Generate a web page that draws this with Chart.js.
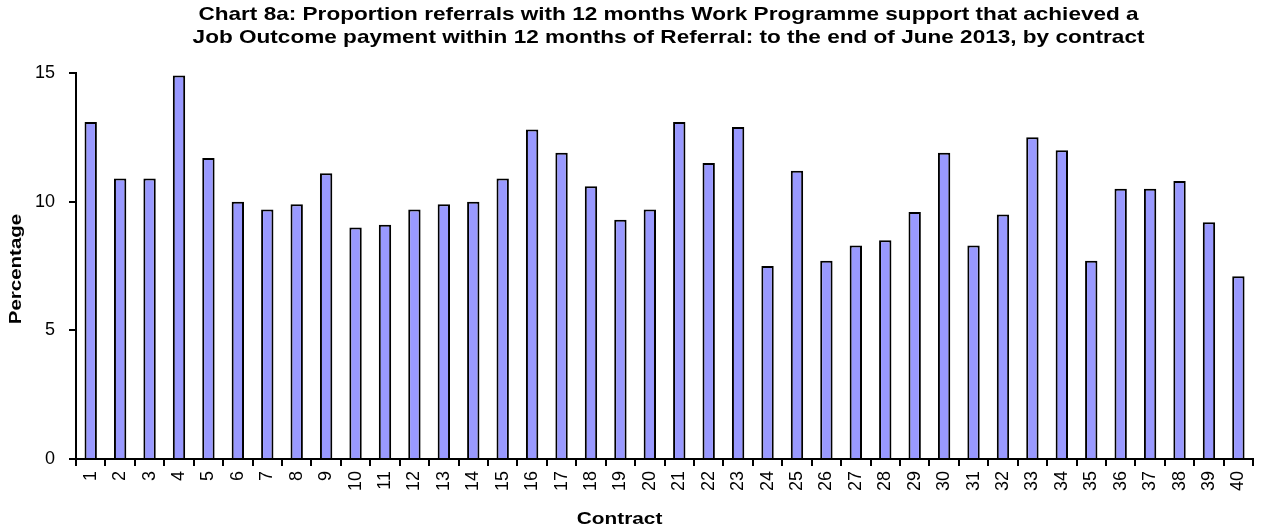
<!DOCTYPE html>
<html>
<head>
<meta charset="utf-8">
<script src="https://cdn.jsdelivr.net/npm/chart.js@4"></script>
<style>
html,body{margin:0;padding:0;background:#fff;}
#wrap{width:1265px;height:532px;position:relative;}
</style>
</head>
<body>
<div id="wrap"><canvas id="c" width="1265" height="532"></canvas></div>
<script>
const categories = Array.from({length:40},(_,i)=>String(i+1));
const percentages = [13.1,10.9,10.9,14.9,11.7,10.0,9.7,9.9,11.1,9.0,
  9.1,9.7,9.9,10.0,10.9,12.8,11.9,10.6,9.3,9.7,
  13.1,11.5,12.9,7.5,11.2,7.7,8.3,8.5,9.6,11.9,
  8.3,9.5,12.5,12.0,7.7,10.5,10.5,10.8,9.2,7.1];
const yTicks = [0,5,10,15];
const titleLines = ["Chart 8a: Proportion referrals with 12 months Work Programme support that achieved a",
  "Job Outcome payment within 12 months of Referral: to the end of June 2013, by contract"];
const xTitle = "Contract";
const yTitle = "Percentage";

const FONT = "'Liberation Sans', Arial, sans-serif";

function stretchedText(ctx, text, x, y, size, sx, rot){
  ctx.save();
  ctx.translate(x, y);
  if (rot) ctx.rotate(rot);
  ctx.scale(sx, 1);
  ctx.font = "bold " + size + "px " + FONT;
  ctx.fillStyle = '#000';
  ctx.textAlign = 'center';
  ctx.textBaseline = 'middle';
  ctx.fillText(text, 0, 0);
  ctx.restore();
}

const textPlugin = {
  id:'customTexts',
  afterDraw(chart){
    const ctx = chart.ctx, a = chart.chartArea;
    const cx = (a.left + a.right)/2 + 4;
    stretchedText(ctx, titleLines[0], cx, 15, 18.5, 1.22, 0);
    stretchedText(ctx, titleLines[1], cx, 38, 18.5, 1.22, 0);
    stretchedText(ctx, xTitle, (a.left + a.right)/2 - 45, 520, 16, 1.3, 0);
    stretchedText(ctx, yTitle, 17, (a.top + a.bottom)/2 + 3, 16, 1.28, -Math.PI/2);
  }
};

new Chart(document.getElementById('c'), {
  type:'bar',
  data:{
    labels:categories,
    datasets:[{
      data:percentages,
      backgroundColor:'#9999FF',
      borderColor:'#000',
      borderWidth:2,
      borderSkipped:'bottom',
      barPercentage:0.42,
      categoryPercentage:1.0
    }]
  },
  options:{
    responsive:false,
    animation:false,
    devicePixelRatio:1,
    layout:{padding:{top:73,right:1,left:0,bottom:0}},
    plugins:{legend:{display:false},title:{display:false},tooltip:{enabled:false}},
    scales:{
      x:{
        offset:true,
        afterFit(scale){ scale.height = 73; },
        grid:{display:true,drawOnChartArea:false,drawTicks:true,tickLength:7,color:'#000',lineWidth:2,offset:true},
        border:{display:true,color:'#000',width:2},
        ticks:{color:'#000',font:{family:FONT,size:18},maxRotation:90,minRotation:90,autoSkip:false,padding:5}
      },
      y:{
        min:0,max:15,
        afterFit(scale){ scale.width = 76; },
        afterBuildTicks(axis){axis.ticks = yTicks.map(v=>({value:v}));},
        grid:{display:true,drawOnChartArea:false,drawTicks:true,tickLength:7,color:'#000',lineWidth:2},
        border:{display:true,color:'#000',width:2},
        ticks:{color:'#000',font:{family:FONT,size:18},padding:14}
      }
    }
  },
  plugins:[textPlugin]
});
</script>
</body>
</html>
